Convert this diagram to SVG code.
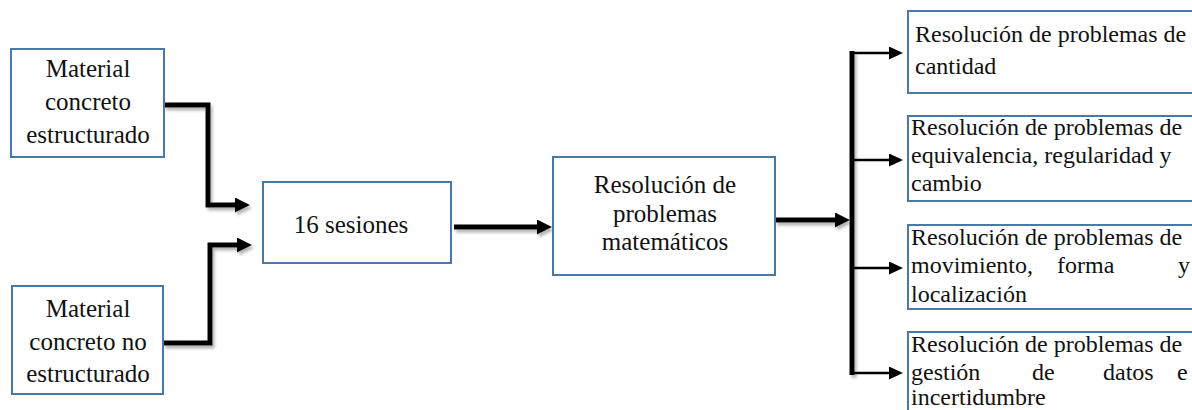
<svg xmlns="http://www.w3.org/2000/svg" width="1192" height="410" viewBox="0 0 1192 410">
<style>
.box{fill:#fff;stroke:#4a78ae;stroke-width:2}
text{font-family:'Liberation Serif','Times New Roman','DejaVu Serif',serif;fill:#111}
.tc{font-size:25px;text-anchor:middle}
.tr{font-size:24px}
.thick{fill:none;stroke:#000;stroke-width:5;stroke-linejoin:miter}
.thin{fill:none;stroke:#000;stroke-width:2.5}
</style>
<defs>
<filter id="sh" x="-20%" y="-20%" width="140%" height="140%">
<feDropShadow dx="2" dy="3" stdDeviation="1.5" flood-color="#777" flood-opacity="0.55"/>
</filter>
<marker id="ah" markerUnits="userSpaceOnUse" markerWidth="16" markerHeight="16" refX="0" refY="7.5" orient="auto">
<path d="M0,0 L15,7.5 L0,15 z" fill="#000"/>
</marker>
<marker id="ahs" markerUnits="userSpaceOnUse" markerWidth="15" markerHeight="14" refX="0" refY="6.5" orient="auto">
<path d="M0,0 L14,6.5 L0,13 z" fill="#000"/>
</marker>
</defs>

<g id="connectors">
<g filter="url(#sh)">
<polyline class="thick" points="164,105 208,105 208,205 235,205" marker-end="url(#ah)"/>
<polyline class="thick" points="163,343 210,343 210,245 237,245" marker-end="url(#ah)"/>
<line class="thick" x1="454" y1="227" x2="537" y2="227" marker-end="url(#ah)"/>
<line class="thick" x1="775" y1="220" x2="835" y2="220" marker-end="url(#ah)"/>
<line class="thick" x1="852" y1="51" x2="852" y2="375"/>
</g>
<line class="thin" x1="852" y1="53" x2="889" y2="53" marker-end="url(#ahs)"/>
<line class="thin" x1="854" y1="160" x2="889" y2="160" marker-end="url(#ahs)"/>
<line class="thin" x1="854" y1="268" x2="889" y2="268" marker-end="url(#ahs)"/>
<line class="thin" x1="852" y1="373" x2="889" y2="373" marker-end="url(#ahs)"/>
</g>

<g id="node-estructurado">
<rect class="box" x="11" y="49" width="153" height="108"/>
<text class="tc" font-family="Liberation Serif, serif"><tspan x="88" y="77">Material</tspan><tspan x="88" y="110">concreto</tspan><tspan x="88" y="143">estructurado</tspan></text>
</g>

<g id="node-no-estructurado">
<rect class="box" x="12" y="286" width="151" height="108"/>
<text class="tc" font-family="Liberation Serif, serif"><tspan x="88" y="317">Material</tspan><tspan x="88" y="350">concreto no</tspan><tspan x="88" y="382">estructurado</tspan></text>
</g>

<g id="node-sesiones">
<rect class="box" x="263" y="182" width="188" height="81"/>
<text class="tc" font-family="Liberation Serif, serif" x="351" y="233">16 sesiones</text>
</g>

<g id="node-resolucion">
<rect class="box" x="553" y="157" width="222" height="118"/>
<text class="tc" font-family="Liberation Serif, serif"><tspan x="665" y="193">Resolución de</tspan><tspan x="665" y="222">problemas</tspan><tspan x="665" y="250">matemáticos</tspan></text>
</g>

<g id="node-cantidad">
<rect class="box" x="908" y="11" width="300" height="82"/>
<text class="tr" font-family="Liberation Serif, serif"><tspan x="915" y="42">Resolución de problemas de</tspan><tspan x="915" y="74">cantidad</tspan></text>
</g>

<g id="node-equivalencia">
<rect class="box" x="908" y="116" width="300" height="85"/>
<text class="tr" font-family="Liberation Serif, serif"><tspan x="911" y="135">Resolución de problemas de</tspan><tspan x="911" y="163">equivalencia, regularidad y</tspan><tspan x="911" y="191">cambio</tspan></text>
</g>

<g id="node-movimiento">
<rect class="box" x="908" y="225" width="300" height="84"/>
<text class="tr" font-family="Liberation Serif, serif"><tspan x="911" y="245">Resolución de problemas de</tspan><tspan x="911" y="273">movimiento,</tspan><tspan x="1057" y="273">forma</tspan><tspan x="1178" y="273">y</tspan><tspan x="911" y="302">localización</tspan></text>
</g>

<g id="node-gestion">
<rect class="box" x="908" y="332" width="300" height="90"/>
<text class="tr" font-family="Liberation Serif, serif"><tspan x="911" y="352">Resolución de problemas de</tspan><tspan x="911" y="380">gestión</tspan><tspan x="1032" y="380">de</tspan><tspan x="1103" y="380">datos</tspan><tspan x="1177" y="380">e</tspan><tspan x="911" y="405">incertidumbre</tspan></text>
</g>
</svg>
